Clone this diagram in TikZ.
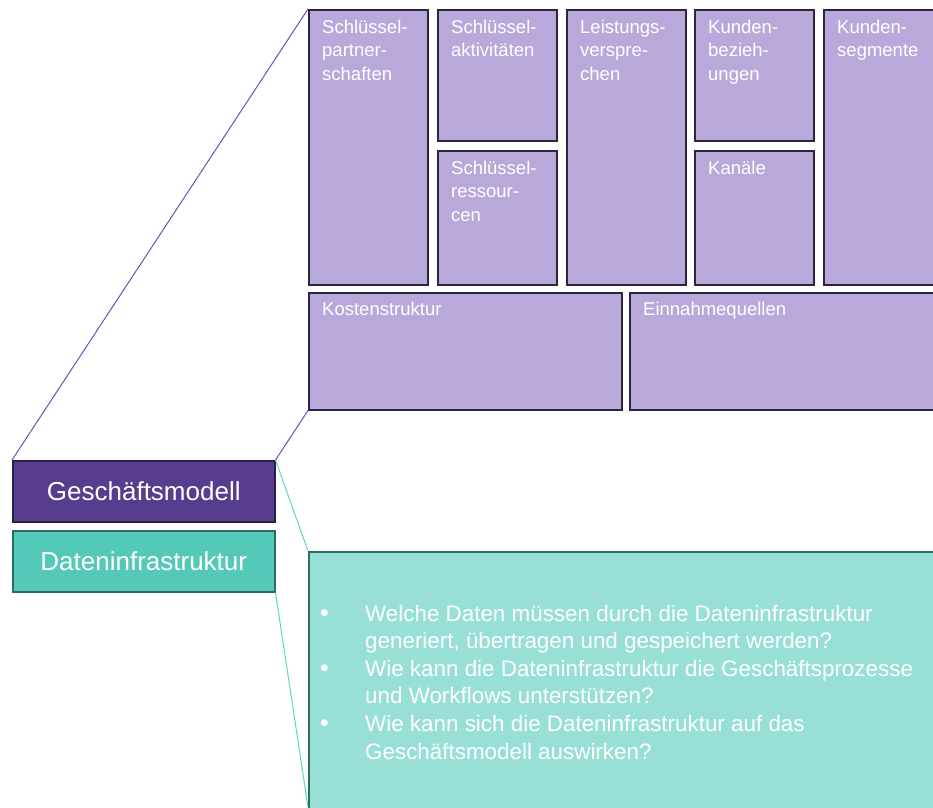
\documentclass[tikz,border=0pt]{standalone}
\usepackage{fontspec}
\setmainfont{Liberation Sans}
\usetikzlibrary{calc}
\definecolor{cellfill}{HTML}{B9A9DA}
\definecolor{cellline}{HTML}{2C2442}
\definecolor{gmfill}{HTML}{573D8E}
\definecolor{gmline}{HTML}{2B1F48}
\definecolor{difill}{HTML}{54C9B8}
\definecolor{diline}{HTML}{2E6A5E}
\definecolor{grfill}{HTML}{98DFD5}
\definecolor{grline}{HTML}{2F6E63}
\definecolor{plinecol}{HTML}{6B51B3}
\definecolor{tlinecol}{HTML}{5CD6C6}
\newcommand{\bul}{{\fontsize{25}{27.6}\selectfont •}}
\begin{document}
\begin{tikzpicture}[x=1pt,y=-1pt,
  cell/.style={rectangle, draw=cellline, fill=cellfill, line width=1.5pt,
    inner sep=0pt, anchor=north west},
  celltext/.style={anchor=base west, inner sep=0pt, text=white,
    font=\fontsize{18.5}{23.5}\selectfont},
  bigbox/.style={rectangle, line width=1.5pt, inner sep=0pt, anchor=north west,
    minimum width=262pt, minimum height=61pt, text=white,
    font=\fontsize{26}{30}\selectfont},
  pline/.style={draw=plinecol, line width=1pt},
  tline/.style={draw=tlinecol, line width=1pt},
]
\useasboundingbox (0,0) rectangle (933,807);
\clip (0,0) rectangle (933,807);

% business model canvas: upper row
\node[cell, minimum width=119pt, minimum height=275pt] (kp) at (308,9) {};
\node[cell, minimum width=119pt, minimum height=131pt] (ka) at (437,9) {};
\node[cell, minimum width=119pt, minimum height=134pt] (kr) at (437,150) {};
\node[cell, minimum width=119pt, minimum height=275pt] (lv) at (566,9) {};
\node[cell, minimum width=119pt, minimum height=131pt] (kb) at (694,9) {};
\node[cell, minimum width=119pt, minimum height=134pt] (kn) at (694,150) {};
\node[cell, minimum width=130pt, minimum height=275pt] (ks) at (823,9) {};
% lower row
\node[cell, minimum width=313pt, minimum height=117pt] (kost) at (308,292) {};
\node[cell, minimum width=320pt, minimum height=117pt] (ein) at (629,292) {};

% cell captions
\node[celltext] (kpt) at ([shift={(14,24)}]kp.north west)
  {\begin{tabular}[t]{@{}l@{}}Schlüssel-\\partner-\\schaften\end{tabular}};
\node[celltext] (kat) at ([shift={(14,24)}]ka.north west)
  {\begin{tabular}[t]{@{}l@{}}Schlüssel-\\aktivitäten\end{tabular}};
\node[celltext] (krt) at ([shift={(14,24)}]kr.north west)
  {\begin{tabular}[t]{@{}l@{}}Schlüssel-\\ressour-\\cen\end{tabular}};
\node[celltext] (lvt) at ([shift={(14,24)}]lv.north west)
  {\begin{tabular}[t]{@{}l@{}}Leistungs-\\verspre-\\chen\end{tabular}};
\node[celltext] (kbt) at ([shift={(14,24)}]kb.north west)
  {\begin{tabular}[t]{@{}l@{}}Kunden-\\bezieh-\\ungen\end{tabular}};
\node[celltext] (knt) at ([shift={(14,24)}]kn.north west) {Kanäle};
\node[celltext] (kst) at ([shift={(14,24)}]ks.north west)
  {\begin{tabular}[t]{@{}l@{}}Kunden-\\segmente\end{tabular}};
\node[celltext] (kostt) at ([shift={(14,23)}]kost.north west) {Kostenstruktur};
\node[celltext] (eint) at ([shift={(14,23)}]ein.north west) {Einnahmequellen};

% left-hand layer boxes
\node[bigbox, draw=gmline, fill=gmfill] (gm) at (12,460) {Geschäftsmodell};
\node[bigbox, draw=diline, fill=difill] (di) at (12,530) {Dateninfrastruktur};

% detail panel for the data infrastructure
\node[rectangle, draw=grline, fill=grfill, line width=1.5pt, inner sep=0pt,
  anchor=north west, minimum width=640pt, minimum height=270pt] (gr) at (308,551) {};
\coordinate (grfoot) at (308,807);

\node[anchor=base west, inner sep=0pt, text=white,
  font=\fontsize{22.4}{27.6}\selectfont] (grt) at (320,621)
  {\begin{tabular}[t]{@{}p{45pt}@{}l@{}}
   \bul & Welche Daten müssen durch die Dateninfrastruktur\\
   & generiert, übertragen und gespeichert werden?\\
   \bul & Wie kann die Dateninfrastruktur die Geschäftsprozesse\\
   & und Workflows unterstützen?\\
   \bul & Wie kann sich die Dateninfrastruktur auf das\\
   & Geschäftsmodell auswirken?
   \end{tabular}};

% zoom connectors
\draw[pline] (gm.north west) -- (kp.north west);
\draw[pline] (gm.north east) -- (kost.south west);
\draw[tline] (gm.north east) -- (gr.north west);
\draw[tline] (di.south east) -- (grfoot);
\end{tikzpicture}
\end{document}
